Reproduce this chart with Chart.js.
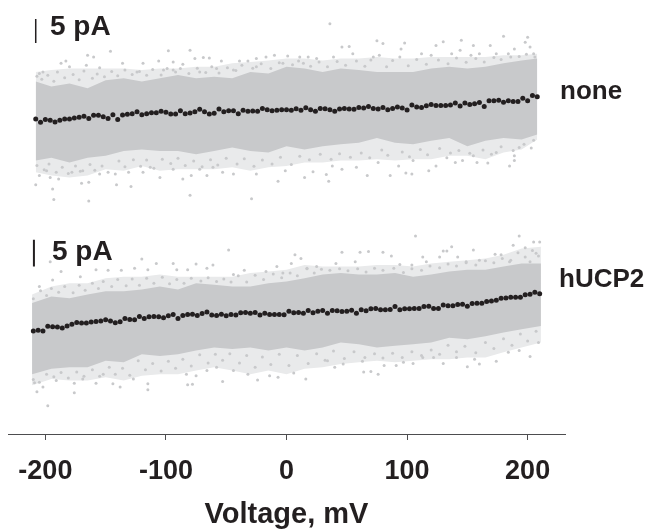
<!DOCTYPE html>
<html><head><meta charset="utf-8">
<style>html,body{margin:0;padding:0;background:#fff}#w{width:646px;height:529px;position:relative}</style>
<script src="https://cdn.jsdelivr.net/npm/chart.js@4"></script>
</head><body><div id="w"><canvas id="c" width="646" height="529"></canvas></div>
<script>
const xTicks=[-200,-100,0,100,200];
const xTitle="Voltage, mV";
const panelNames=["none","hUCP2"];
const scaleBarText="5 pA";

// Mean current (pA), panel "none"
const meanV1=[-208,-204,-200,-196,-192,-188,-184,-180,-176,-172,-168,-164,-160,-156,-152,-148,-144,-140,-136,-132,-128,-124,-120,-116,-112,-108,-104,-100,-96,-92,-88,-84,-80,-76,-72,-68,-64,-60,-56,-52,-48,-44,-40,-36,-32,-28,-24,-20,-16,-12,-8,-4,0,4,8,12,16,20,24,28,32,36,40,44,48,52,56,60,64,68,72,76,80,84,88,92,96,100,104,108,112,116,120,124,128,132,136,140,144,148,152,156,160,164,168,172,176,180,184,188,192,196,200,204,208];
const meanI1=[-1.85,-2.53,-1.99,-2.12,-2.47,-2.12,-1.85,-1.85,-1.64,-1.51,-1.30,-1.78,-1.10,-1.10,-1.37,-1.78,-0.96,-1.99,-1.03,-0.89,-0.75,-0.34,-0.96,-0.75,-0.55,-0.55,-0.27,-0.48,-0.82,-0.82,-0.14,-0.75,-0.62,-0.34,0.14,-0.34,-0.82,-0.68,0.21,-0.34,-0.14,-0.14,-0.75,-0.07,-0.27,-0.21,-0.27,0.34,0.07,-0.14,-0.07,0.07,0.07,-0.07,0.27,-0.07,0.48,0.07,-0.27,0.34,0.27,0.07,-0.27,0.21,0.34,0.21,0.14,0.55,0.41,0.75,0.34,0.21,0.55,0.07,0.34,0.62,0.41,0,1.03,0.62,0.55,0.89,1.16,0.96,0.96,0.96,1.03,1.44,0.82,1.44,1.16,1.30,1.58,0.75,1.92,1.92,2.05,1.64,1.92,1.78,1.78,2.47,1.92,3.01,2.74];

// Mean current (pA), panel "hUCP2"
const meanV2=[-210,-206,-202,-198,-194,-190,-186,-182,-178,-174,-170,-166,-162,-158,-154,-150,-146,-142,-138,-134,-130,-126,-122,-118,-114,-110,-106,-102,-98,-94,-90,-86,-82,-78,-74,-70,-66,-62,-58,-54,-50,-46,-42,-38,-34,-30,-26,-22,-18,-14,-10,-6,-2,2,6,10,14,18,22,26,30,34,38,42,46,50,54,58,62,66,70,74,78,82,86,90,94,98,102,106,110,114,118,122,126,130,134,138,142,146,150,154,158,162,166,170,174,178,182,186,190,194,198,202,206,210];
const meanI2=[-3.33,-3.21,-3.33,-2.47,-2.53,-2.59,-2.78,-2.41,-2.10,-1.73,-1.85,-1.85,-1.67,-1.54,-1.48,-1.23,-1.48,-1.79,-1.60,-0.99,-1.17,-1.23,-0.62,-0.99,-0.68,-0.62,-0.68,-0.86,-0.49,-0.25,-0.99,-0.43,-0.25,-0.19,-0.43,-0.06,0.19,-0.37,-0.43,-0.19,-0.49,-0.25,-0.37,0.06,0.12,0,0.12,-0.37,0,-0.25,-0.25,-0.25,-0.31,0.37,0.06,0.12,0,0.49,0.06,0.37,0.49,0,0.49,0.43,0.31,0.37,0.56,0,0.62,0.43,0.80,0.86,0.62,0.62,0.68,1.23,0.62,0.80,0.80,0.86,0.86,1.23,1.30,0.86,0.86,1.54,1.36,1.36,1.60,1.67,1.30,1.79,1.85,1.85,2.16,2.28,2.41,2.78,2.84,2.96,2.96,2.96,3.46,3.52,3.89,3.64];

// Gray scatter too dense to read point by point: envelopes (pA)
const bandV1=[-208,-195,-180,-165,-150,-135,-120,-105,-90,-75,-60,-45,-30,-15,0,15,30,45,60,75,90,105,120,135,150,165,180,195,208];
const coreHi1=[5.9,4.9,5.5,4.5,6.2,6.6,5.9,6.6,7.3,6.6,6.9,6.6,7.9,7.6,9.0,8.6,7.9,8.6,8.3,7.9,7.9,7.9,8.6,9.0,8.6,9.0,9.7,10.3,10.7];
const coreLo1=[-10.5,-9.9,-10.9,-9.9,-9.5,-8.5,-8.2,-8.5,-8.5,-9.2,-8.5,-7.8,-8.5,-8.8,-7.5,-8.2,-7.5,-7.1,-6.8,-5.8,-6.8,-7.1,-6.4,-5.8,-7.5,-6.4,-5.8,-6.1,-5.1];
const edgeHi1=[7.9,8.3,8.6,8.6,8.6,8.6,8.3,8.6,8.6,9.0,9.0,9.7,10.0,10.3,10.7,10.7,10.3,10.7,10.7,11.0,10.7,10.7,11.0,11.0,11.0,11.0,11.4,11.4,11.7];
const edgeLo1=[-12.9,-13.6,-14.0,-13.6,-12.3,-12.6,-11.6,-12.6,-12.3,-12.3,-12.3,-11.9,-12.6,-11.9,-11.6,-10.9,-10.9,-10.5,-10.5,-10.2,-10.5,-10.2,-10.2,-9.5,-9.5,-10.2,-8.8,-8.2,-6.1];

const bandV2=[-211,-195,-180,-165,-150,-135,-120,-105,-90,-75,-60,-45,-30,-15,0,15,30,45,60,75,90,105,120,135,150,165,180,195,211];
const coreHi2=[1.9,3.1,2.8,3.5,4.1,4.1,4.4,5.0,4.4,5.6,5.3,5.0,5.0,5.6,5.9,6.5,7.2,7.5,7.2,7.2,7.5,6.8,7.2,7.8,8.1,8.1,8.7,9.3,9.3];
const coreLo2=[-11.4,-10.4,-10.1,-10.1,-8.9,-9.2,-7.7,-8.0,-7.7,-7.0,-6.4,-6.7,-6.4,-7.0,-6.4,-7.0,-6.4,-5.5,-5.8,-6.4,-6.1,-5.8,-5.5,-4.6,-4.9,-4.3,-3.6,-3.0,-2.4];
const edgeHi2=[3.5,5.0,5.6,5.6,6.5,6.8,6.8,7.2,6.8,6.8,6.8,6.8,7.5,7.8,8.1,9.0,8.7,8.7,8.7,9.0,9.0,8.7,9.3,9.6,9.9,10.2,10.9,12.1,12.4];
const edgeLo2=[-13.5,-12.3,-12.6,-12.6,-12.0,-12.6,-11.7,-11.4,-11.4,-10.7,-10.1,-10.7,-11.4,-10.7,-11.4,-10.4,-10.1,-9.5,-9.2,-8.9,-9.2,-8.9,-8.6,-8.6,-8.3,-8.3,-7.3,-6.4,-5.5];

// Gray points at the rim of the cloud and outside it (pA), estimated by eye
const looseV1=[-165,-160,-146,-183,-180,-187,-202,-205,-166,-155,-136,-119,-106,-98,-80,-94,-86,-76,-69,-64,-54,-39,-32,-25,-17,-10,1,11,18,25,-124,-102,-94,-72,-58,-44,-25,-3,14,36,46,52,75,80,95,98,124,130,145,155,169,180,200,198,202,189,160,144,112,120,39,55,72,77,94,137,153,174,184,205,-208,-194,-193,-164,-141,-129,-80,-29,-205,-196,-189,-170,-164,-178,-155,-142,-131,-119,-105,-86,-79,-66,-53,-44,-25,-7,15,22,-1,-113,-94,-61,-199,-169,-72,33,35,46,58,67,86,93,99,104,118,124,140,146,158,167,185,189,189,203,38,76,105,133,155,174,193,
 -207,-203,-198,-193,-190,-184,-177,-172,-168,-161,-157,-151,-145,-140,-134,-128,-122,-116,-111,-104,-99,-92,-88,-81,-74,-67,-62,-56,-49,-42,-37,-28,-21,-13,-6,5,10,20,27,34,42,49,58,65,70,83,88,101,108,116,126,134,141,149,157,164,172,178,186,193,199,206,
 -207,-201,-197,-191,-186,-181,-175,-171,-163,-159,-153,-148,-139,-134,-127,-121,-116,-110,-103,-96,-90,-84,-77,-70,-63,-57,-50,-41,-35,-27,-20,-12,-5,4,11,19,28,37,44,53,62,69,79,84,96,102,111,117,127,136,143,152,163,170,178,188,197,205];
const looseI1=[11.4,11.0,12.2,10.2,9.0,9.7,7.9,7.6,9.3,8.8,9.7,9.7,10.2,12.3,12.4,10.0,9.5,10.7,10.9,10.8,10.2,10.2,10.2,10.7,11.0,11.4,11.2,11.0,11.0,10.7,7.9,8.3,8.3,7.9,8.6,8.3,9.0,9.7,9.7,17.9,13.1,13.2,14.4,13.8,12.7,13.9,13.4,14.2,14.5,13.4,13.4,15.3,15.1,14.1,13.1,12.7,11.7,12.4,11.7,11.4,11.0,11.7,11.0,11.4,11.0,11.7,11.4,11.7,11.7,11.7,-15.5,-16.4,-18.6,-18.9,-15.5,-15.9,-17.7,-18.4,-13.6,-14.0,-14.3,-15.2,-15.0,-12.9,-13.3,-13.3,-12.9,-12.9,-14.0,-14.3,-13.6,-13.6,-12.9,-13.3,-13.3,-14.8,-14.0,-12.8,-12.6,-11.9,-12.3,-11.9,-12.6,-12.6,-12.3,-13.4,-14.8,-12.3,-11.9,-13.6,-13.6,-11.6,-13.1,-13.3,-12.6,-11.6,-10.9,-10.5,-10.9,-11.0,-11.6,-10.5,-9.5,-7.9,-11.6,-10.9,-10.5,-9.9,-9.5,-8.8,-7.8,
 7.0,6.4,7.2,6.0,7.9,6.7,7.4,6.3,8.1,6.6,7.5,6.9,8.0,7.1,8.3,7.4,8.0,7.2,8.4,7.3,8.6,7.9,8.6,7.6,8.7,7.8,9.0,7.7,8.8,8.2,9.3,8.7,9.6,8.6,9.8,9.4,10.2,9.1,10.0,9.0,10.1,9.3,10.2,9.1,10.4,9.0,10.3,9.2,10.5,9.5,10.4,9.6,10.8,9.9,10.7,10.0,10.9,10.5,11.0,11.1,11.6,11.0,
 -11.5,-12.4,-11.2,-12.9,-11.9,-13.2,-11.6,-12.7,-11.3,-12.5,-11.6,-12.9,-10.6,-11.8,-10.3,-11.7,-10.4,-12.1,-10.2,-11.1,-10.0,-11.5,-10.6,-11.8,-10.3,-11.4,-10.0,-11.2,-10.1,-11.7,-10.4,-11.2,-9.8,-11.3,-9.6,-10.3,-9.2,-10.2,-9.1,-9.8,-8.9,-9.9,-8.3,-9.4,-8.7,-9.7,-8.2,-9.3,-8.0,-8.9,-8.4,-9.0,-8.3,-9.2,-7.6,-8.4,-7.1,-6.3];

const looseV2=[-48,7,12,4,-120,-108,-94,-75,-61,-196,-187,-171,-194,-205,-158,-148,-137,-126,-115,-91,-82,-66,-35,-8,-17,17,25,-44,-3,107,193,137,130,127,133,188,198,205,210,207,80,87,46,61,68,113,155,142,173,178,57,41,94,104,116,149,160,185,202,-198,-207,-176,-115,-209,-202,-176,-158,-144,-138,-115,-82,-78,-53,-24,16,-14,-7,6,-169,-127,-152,-83,-66,-58,-32,-44,-191,-75,64,70,76,40,47,34,63,81,91,97,105,113,130,150,160,174,156,202,193,184,209,141,122,
 -210,-204,-199,-195,-189,-184,-177,-172,-167,-161,-156,-152,-145,-140,-133,-128,-122,-116,-110,-103,-97,-91,-85,-79,-71,-65,-58,-52,-46,-40,-33,-26,-19,-11,-4,3,9,17,23,29,36,44,51,59,66,73,80,89,97,104,112,119,127,134,141,149,157,165,172,179,186,192,198,204,209,
 -210,-205,-199,-193,-187,-181,-174,-168,-161,-155,-147,-142,-136,-130,-123,-117,-111,-104,-98,-92,-86,-79,-72,-65,-59,-53,-47,-39,-33,-26,-20,-13,-6,2,9,18,25,32,39,48,56,65,73,80,88,96,104,112,120,127,134,141,148,157,165,172,180,187,194,200,207];
const looseI2=[11.8,10.9,10.2,9.3,10.1,9.3,9.3,9.2,9.0,9.6,7.8,6.8,6.2,5.0,8.1,8.0,8.0,8.4,8.1,8.1,8.1,8.4,8.0,8.7,7.8,8.4,8.7,7.2,7.5,14.4,14.4,12.4,11.6,10.5,11.6,12.7,12.2,13.3,13.3,11.2,11.4,10.7,11.4,11.4,11.5,10.5,11.8,10.5,11.0,10.9,9.6,9.3,9.1,9.0,9.6,9.6,9.9,9.6,9.6,-17.3,-14.7,-14.9,-14.3,-13.0,-13.8,-13.1,-13.1,-13.2,-13.8,-13.2,-13.4,-13.3,-12.8,-12.5,-12.3,-11.7,-12.0,-11.2,-12.3,-12.3,-11.4,-11.4,-10.7,-10.1,-11.4,-10.7,-12.6,-11.7,-11.0,-10.9,-11.4,-10.1,-9.5,-8.9,-9.0,-9.8,-9.8,-9.2,-9.4,-8.3,-9.4,-10.0,-9.5,-9.0,-8.6,-8.1,-7.0,-7.3,-5.5,-8.3,-8.3,
 2.7,4.2,3.3,4.6,3.9,5.0,3.8,5.2,4.3,5.6,4.6,5.9,5.0,6.3,5.1,6.4,5.2,6.5,5.6,6.7,5.5,6.3,5.6,6.5,6.0,6.6,5.9,6.4,5.8,7.0,5.8,7.1,6.3,7.3,6.6,7.5,7.0,8.3,7.5,8.2,8.0,8.3,7.9,8.3,7.7,8.4,8.0,8.4,7.6,8.3,8.0,8.8,8.5,9.2,8.8,9.4,9.0,9.8,9.4,10.2,9.9,11.3,10.5,11.7,10.7,
 -12.4,-12.9,-11.4,-11.9,-11.1,-12.1,-11.0,-11.8,-10.6,-11.8,-10.1,-11.4,-10.3,-11.6,-8.9,-10.6,-9.4,-10.8,-9.0,-10.3,-8.6,-9.9,-7.8,-9.3,-7.7,-8.8,-7.6,-9.3,-7.9,-10.1,-8.2,-9.6,-7.7,-9.8,-7.9,-9.4,-7.6,-8.8,-7.1,-8.5,-7.2,-8.3,-7.6,-8.4,-7.5,-8.3,-7.2,-7.9,-6.9,-7.7,-6.0,-7.2,-6.2,-7.4,-5.5,-6.6,-4.8,-6.0,-3.9,-5.2,-3.4];

// 5 pA scale bars
const barV1=[-208,-208], barI1=[18.9,13.9];
const barV2=[-209.5,-209.5], barI2=[13.7,8.7];

const INK="#231f20", CLOUD="#c8c9cb", EDGE="#e9eaeb";
const pts=(xs,ys)=>xs.map((x,i)=>({x,y:ys[i]}));
const band=(xs,ys,axis,color,order)=>({data:pts(xs,ys),yAxisID:axis,borderWidth:0,pointRadius:0,backgroundColor:color,fill:'+1',order});
const bandEnd=(xs,ys,axis,order)=>({data:pts(xs,ys),yAxisID:axis,borderWidth:0,pointRadius:0,fill:false,order});
const dots=(xs,ys,axis,color,r,order)=>({data:pts(xs,ys),yAxisID:axis,showLine:false,pointRadius:r,pointBorderWidth:0,pointBackgroundColor:color,order});
const bar=(xs,ys,axis,w)=>({data:pts(xs,ys),yAxisID:axis,borderColor:INK,borderWidth:w,pointRadius:0,fill:false,order:1});

const textLabels=[
 {t:scaleBarText,x:50,y:35,s:28},
 {t:panelNames[0],x:560,y:99,s:26},
 {t:scaleBarText,x:52,y:260,s:28},
 {t:panelNames[1],x:559,y:287,s:26}
];
const labelPlugin={id:'labels',afterDraw(ch){const c=ch.ctx;c.save();c.fillStyle=INK;c.textAlign='left';c.textBaseline='alphabetic';
 textLabels.forEach(l=>{c.font='bold '+l.s+'px "Liberation Sans"';c.fillText(l.t,l.x,l.y);});c.restore();}};

new Chart(document.getElementById('c'),{
 type:'line',
 plugins:[labelPlugin],
 data:{datasets:[
  band(bandV1,edgeHi1,'yA',EDGE,9), bandEnd(bandV1,edgeLo1,'yA',9),
  band(bandV2,edgeHi2,'yB',EDGE,9), bandEnd(bandV2,edgeLo2,'yB',9),
  dots(looseV1,looseI1,'yA',CLOUD,1.5,8), dots(looseV2,looseI2,'yB',CLOUD,1.5,8),
  band(bandV1,coreHi1,'yA',CLOUD,7), bandEnd(bandV1,coreLo1,'yA',7),
  band(bandV2,coreHi2,'yB',CLOUD,7), bandEnd(bandV2,coreLo2,'yB',7),
  dots(meanV1,meanI1,'yA',INK,2.5,2), dots(meanV2,meanI2,'yB',INK,2.5,2),
  bar(barV1,barI1,'yA',1.5), bar(barV2,barI2,'yB',2)
 ]},
 options:{
  responsive:false,animation:false,
  layout:{padding:{left:8,right:81,top:0,bottom:0}},
  plugins:{legend:{display:false},tooltip:{enabled:false},title:{display:false}},
  elements:{line:{tension:0}},
  scales:{
   x:{type:'linear',min:-231,max:231,
    afterBuildTicks:s=>{s.ticks=xTicks.map(v=>({value:v}));},
    afterFit:s=>{s.height=95;},
    grid:{display:true,drawOnChartArea:false,drawTicks:true,tickLength:6,color:'#4d4d4f',lineWidth:1},
    border:{display:true,color:'#4d4d4f',width:1},
    ticks:{color:INK,font:{family:'"Liberation Sans"',size:27,weight:'bold'},padding:15,maxRotation:0,autoSkip:false},
    title:{display:true,text:xTitle,color:INK,font:{family:'"Liberation Sans"',size:29,weight:'bold',lineHeight:1},padding:{top:4,bottom:0}}
   },
   yA:{display:false,min:-67.28,max:22.02},
   yB:{display:false,min:-22.59,max:57.78}
  }
 }
});
</script></body></html>
